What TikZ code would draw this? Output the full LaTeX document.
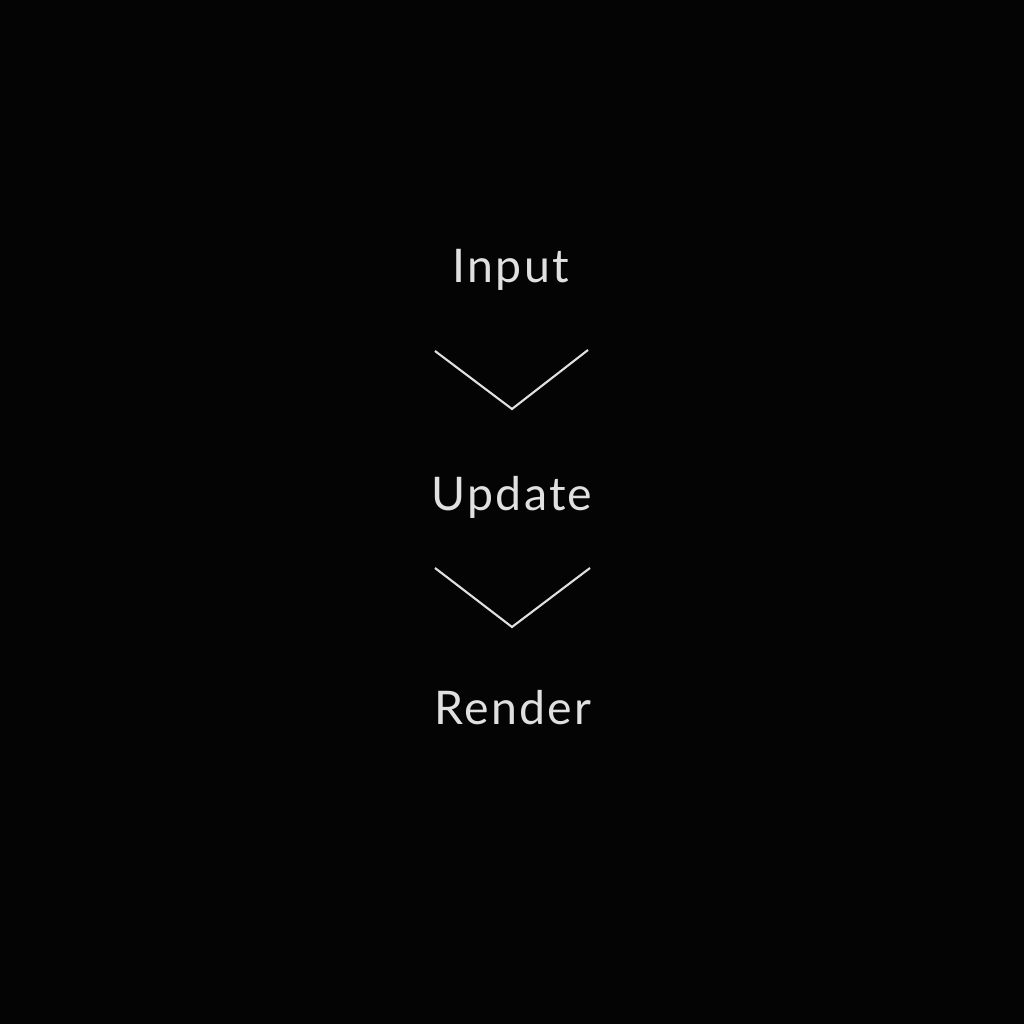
\documentclass[tikz,border=0pt]{standalone}
\usepackage{fontspec}
\setmainfont{Lato}[LetterSpace=5]
\usepackage{xcolor}
\definecolor{bgblack}{RGB}{4,4,4}
\definecolor{softwhite}{RGB}{224,224,224}
\begin{document}
\begin{tikzpicture}[stagetext/.style={anchor=base,text=softwhite,font=\fontsize{13.2}{16}\selectfont},
	chevron/.style={softwhite,line width=0.6pt}]
	\fill[bgblack] (0,0) rectangle (10.24,10.24);
	\useasboundingbox (0,0) rectangle (10.24,10.24);

	\node(input) at (5.11,7.41)[stagetext]{Input};
	\node(update) at (5.12,5.13)[stagetext]{Update};
	\node(render) at (5.13,3.00)[stagetext]{Render};

	\draw[chevron](4.35,6.73) to (5.12,6.15) to (5.88,6.74);
	\draw[chevron](4.35,4.56) to (5.12,3.97) to (5.90,4.56);
\end{tikzpicture}
\end{document}
